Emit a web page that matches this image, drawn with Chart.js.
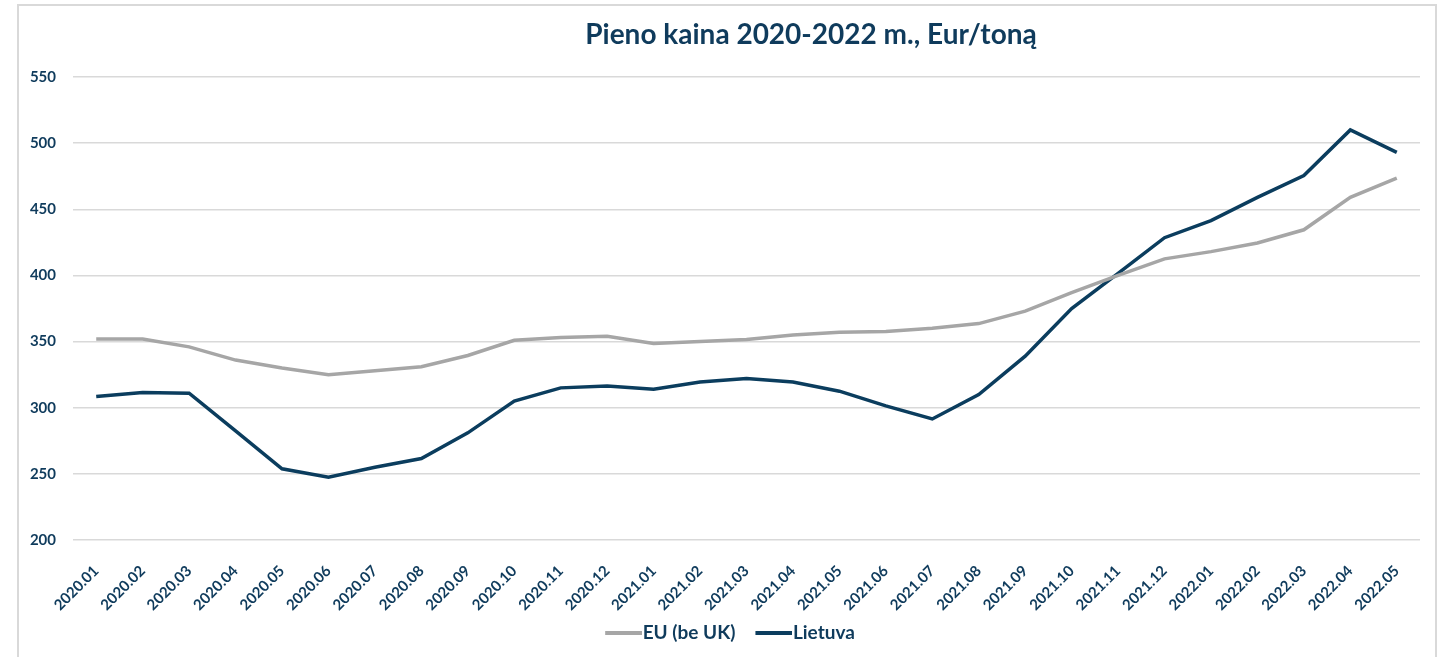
<!DOCTYPE html>
<html>
<head>
<meta charset="utf-8">
<title>Pieno kaina</title>
<script src="https://cdn.jsdelivr.net/npm/chart.js@4.4.1/dist/chart.umd.min.js"></script>
<style>
  html, body { margin: 0; padding: 0; background: #fff; overflow: hidden; }
  #wrap { position: relative; width: 1448px; height: 657px; }
  #frame { position: absolute; left: 17px; top: 4px; width: 1420px; height: 700px;
           border: 2px solid #d9d9d9; box-sizing: border-box; pointer-events: none; }
  canvas { position: absolute; left: 0; top: 0; }
</style>
</head>
<body>
<div id="wrap">
  <canvas id="milkChart" width="1448" height="657"></canvas>
  <div id="frame"></div>
</div>
<script>
const months = [
  "2020.01", "2020.02", "2020.03", "2020.04", "2020.05", "2020.06", "2020.07", "2020.08",
  "2020.09", "2020.10", "2020.11", "2020.12", "2021.01", "2021.02", "2021.03", "2021.04",
  "2021.05", "2021.06", "2021.07", "2021.08", "2021.09", "2021.10", "2021.11", "2021.12",
  "2022.01", "2022.02", "2022.03", "2022.04", "2022.05"
];

const euPrice = [
  352, 352, 346, 336, 330, 325, 328, 331, 339.5, 351, 353, 354, 348.5, 350, 351.5,
  355, 357, 357.7, 360, 363.6, 373, 387, 400, 412.5, 418, 424.5, 434.5, 459, 473.5
];

const ltPrice = [
  308.4, 311.5, 311, 282.5, 253.8, 247.5, 255, 261.6, 281, 305, 315, 316.5, 314, 319.5,
  322, 319.5, 312.5, 301.4, 291.5, 310, 339, 375, 401.5, 428.5, 441.5, 459, 475.5, 510, 493
];

const yTicks = [200, 250, 300, 350, 400, 450, 500, 550];

const navy = "#0b3d5e";
const textNavy = "#0f3b5c";
const grey = "#a6a6a6";

// legend swatch: thick line on the right part of the image so it touches the text
function lineSwatch(color) {
  const c = document.createElement("canvas");
  c.width = 56;
  c.height = 4;
  const g = c.getContext("2d");
  g.fillStyle = color;
  g.fillRect(19, 0, 37, 4);
  return c;
}

// title sits right of centre in the original, so draw it ourselves
const titlePlugin = {
  id: "offsetTitle",
  afterDraw(chart) {
    const ctx = chart.ctx;
    ctx.save();
    ctx.font = "bold 28px Lato";
    ctx.fillStyle = textNavy;
    ctx.textAlign = "center";
    ctx.textBaseline = "alphabetic";
    ctx.fillText("Pieno kaina 2020-2022 m., Eur/toną", 811, 44);
    ctx.restore();
  }
};

// nudge the legend a bit to the right, like the original
const legendShift = {
  id: "legendShift",
  afterLayout(chart) {
    chart.legend.left += 15;
    chart.legend.right += 15;
  }
};

const ctx = document.getElementById("milkChart").getContext("2d");

new Chart(ctx, {
  type: "line",
  data: {
    labels: months,
    datasets: [
      {
        label: "EU (be UK)",
        data: euPrice,
        borderColor: grey,
        backgroundColor: grey,
        borderWidth: 3.5,
        pointRadius: 0,
        pointStyle: lineSwatch(grey),
        tension: 0
      },
      {
        label: "Lietuva",
        data: ltPrice,
        borderColor: navy,
        backgroundColor: navy,
        borderWidth: 3.5,
        pointRadius: 0,
        pointStyle: lineSwatch(navy),
        tension: 0
      }
    ]
  },
  plugins: [titlePlugin, legendShift],
  options: {
    responsive: false,
    animation: false,
    layout: { padding: { top: 77, right: 28, bottom: 5, left: 0 } },
    plugins: {
      title: { display: false },
      tooltip: { enabled: false },
      legend: {
        position: "bottom",
        labels: {
          usePointStyle: true,
          pointStyleWidth: 38,
          boxHeight: 18,
          color: textNavy,
          padding: 10,
          font: { family: "Lato", size: 19, weight: "bold" }
        }
      }
    },
    scales: {
      x: {
        offset: true,
        grid: { display: false, drawTicks: false },
        border: { display: false },
        ticks: {
          color: textNavy,
          minRotation: 45,
          maxRotation: 45,
          autoSkip: false,
          padding: 22,
          font: { family: "Lato", size: 15, weight: "bold" }
        },
        afterFit(scale) { scale.height = 73; }
      },
      y: {
        min: 200,
        max: 550,
        afterBuildTicks(scale) { scale.ticks = yTicks.map(v => ({ value: v })); },
        grid: { color: "#d9d9d9", lineWidth: 1.5, drawTicks: false },
        border: { display: false },
        ticks: {
          color: textNavy,
          padding: 17,
          font: { family: "Lato", size: 15, weight: "bold" }
        },
        afterFit(scale) { scale.width = 73; }
      }
    }
  }
});
</script>
</body>
</html>
